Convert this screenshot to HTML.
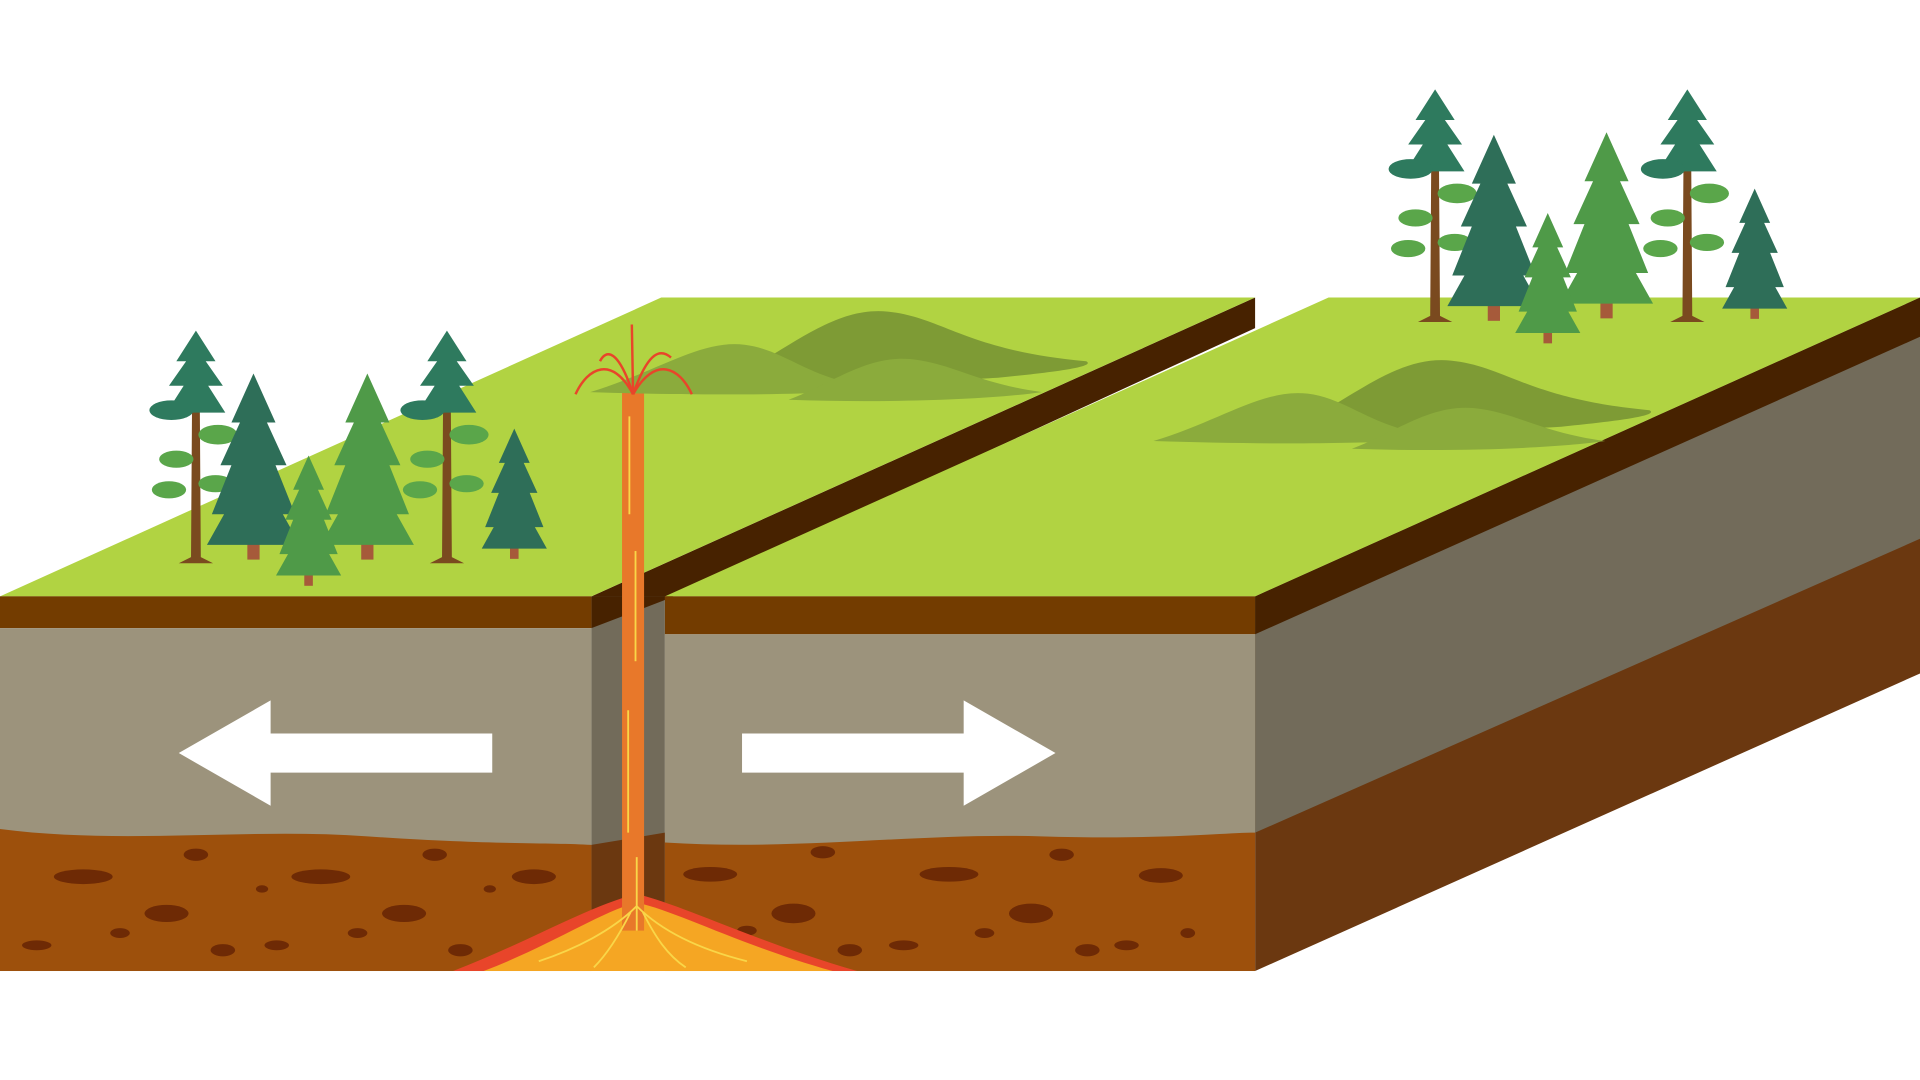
<!DOCTYPE html>
<html><head><meta charset="utf-8"><style>html,body{margin:0;padding:0;background:#fff;overflow:hidden}svg{display:block}</style></head>
<body>
<svg width="1920" height="1080" viewBox="0 0 1568 882" xmlns="http://www.w3.org/2000/svg">
<defs>
<g id="tree">
 <rect x="-5" y="-10" width="10" height="22" fill="#a65a3a"/>
 <polygon points="0,-140 -18,-100 -11,-100 -27,-65 -18,-65 -34,-25 -24,-25 -38,0 38,0 24,-25 34,-25 18,-65 27,-65 11,-100 18,-100" fill="#2e6e58"/>
</g>
<g id="tree2">
 <rect x="-5" y="-10" width="10" height="22" fill="#a65a3a"/>
 <polygon points="0,-140 -18,-100 -11,-100 -27,-65 -18,-65 -34,-25 -24,-25 -38,0 38,0 24,-25 34,-25 18,-65 27,-65 11,-100 18,-100" fill="#4f9a48"/>
</g>
<g id="tall">
 <path d="M-4,0 L-3,-150 L3,-150 L4,0 L14,5 L-14,5 Z" fill="#7a4a1f"/>
 <polygon points="0,-185 -16,-160 -8,-160 -22,-140 -10,-140 -24,-118 24,-118 10,-140 22,-140 8,-160 16,-160" fill="#2e7a5e"/>
 <ellipse cx="-20" cy="-120" rx="18" ry="8" fill="#2e7a5e"/>
 <ellipse cx="18" cy="-100" rx="16" ry="8" fill="#5aa64a"/>
 <ellipse cx="-16" cy="-80" rx="14" ry="7" fill="#5aa64a"/>
 <ellipse cx="16" cy="-60" rx="14" ry="7" fill="#5aa64a"/>
 <ellipse cx="-22" cy="-55" rx="14" ry="7" fill="#5aa64a"/>
</g>
<g id="hills">
 <path d="M0,70 C60,40 100,0 150,5 C200,10 220,40 330,50 C340,55 300,60 250,65 C200,68 100,70 0,70Z" fill="#7e9b35"/>
 <path d="M-120,78 C-60,60 -20,30 20,35 C60,40 80,70 150,75 C100,80 0,82 -120,78Z" fill="#8bab3c"/>
 <path d="M60,85 C100,70 130,45 170,48 C210,52 230,70 290,78 C240,85 150,88 60,85Z" fill="#8bab3c"/>
</g>
</defs>
<rect width="1568" height="882" fill="#fff"/>

<polygon points="1025,487 1568,243 1568,550 1025,793" fill="#6b3810"/>
<polygon points="1025,487 1568,243 1568,440 1025,680" fill="#726b5a"/>
<polygon points="1025,487 1568,243 1568,275 1025,518" fill="#472200"/>

<polygon points="1025,243 1025,268 543,490 483,487" fill="#472200"/>
<polygon points="483,487 543,487 543,793 483,793" fill="#726b5a"/>
<polygon points="483,690 543,680 543,793 483,793" fill="#6b3810"/>
<polygon points="483,487 543,487 543,490 483,513" fill="#472200"/>

<polygon points="0,487 483,487 1025,243 540,243" fill="#b1d342"/>
<polygon points="543,487 1025,487 1568,243 1085,243" fill="#b1d342"/>

<rect x="0" y="487" width="483" height="26" fill="#733c00"/>
<rect x="0" y="513" width="483" height="280" fill="#9c937c"/>
<path d="M0,677 C100,690 200,676 300,683 C400,690 450,688 483,690 L483,793 L0,793Z" fill="#9d500c"/>
<rect x="543" y="487" width="482" height="31" fill="#733c00"/>
<rect x="543" y="518" width="482" height="275" fill="#9c937c"/>
<path d="M543,688 C650,695 750,680 850,683 C950,686 1000,680 1025,680 L1025,793 L543,793Z" fill="#9d500c"/>

<g fill="#6e2a05">
<ellipse cx="68" cy="716" rx="24" ry="6"/><ellipse cx="160" cy="698" rx="10" ry="5"/><ellipse cx="262" cy="716" rx="24" ry="6"/><ellipse cx="355" cy="698" rx="10" ry="5"/><ellipse cx="436" cy="716" rx="18" ry="6"/>
<ellipse cx="136" cy="746" rx="18" ry="7"/><ellipse cx="330" cy="746" rx="18" ry="7"/><ellipse cx="98" cy="762" rx="8" ry="4"/><ellipse cx="226" cy="772" rx="10" ry="4"/><ellipse cx="182" cy="776" rx="10" ry="5"/><ellipse cx="30" cy="772" rx="12" ry="4"/><ellipse cx="292" cy="762" rx="8" ry="4"/><ellipse cx="376" cy="776" rx="10" ry="5"/><ellipse cx="214" cy="726" rx="5" ry="3"/><ellipse cx="400" cy="726" rx="5" ry="3"/>
<ellipse cx="580" cy="714" rx="22" ry="6"/><ellipse cx="672" cy="696" rx="10" ry="5"/><ellipse cx="775" cy="714" rx="24" ry="6"/><ellipse cx="867" cy="698" rx="10" ry="5"/><ellipse cx="948" cy="715" rx="18" ry="6"/>
<ellipse cx="648" cy="746" rx="18" ry="8"/><ellipse cx="842" cy="746" rx="18" ry="8"/><ellipse cx="610" cy="760" rx="8" ry="4"/><ellipse cx="738" cy="772" rx="12" ry="4"/><ellipse cx="694" cy="776" rx="10" ry="5"/><ellipse cx="804" cy="762" rx="8" ry="4"/><ellipse cx="888" cy="776" rx="10" ry="5"/><ellipse cx="920" cy="772" rx="10" ry="4"/><ellipse cx="970" cy="762" rx="6" ry="4"/>
</g>

<path d="M370,793 C430,770 480,740 520,730 C560,740 620,770 700,793Z" fill="#e8452a"/>
<path d="M395,793 C450,772 490,745 520,737 C555,745 605,772 680,793Z" fill="#f5a623"/>
<rect x="508" y="320" width="18" height="440" fill="#e8782a"/>
<g stroke="#f9d648" stroke-width="1.5" fill="none">
<line x1="514" y1="340" x2="514" y2="420"/><line x1="519" y1="450" x2="519" y2="540"/><line x1="513" y1="580" x2="513" y2="680"/><line x1="520" y1="700" x2="520" y2="760"/>
<path d="M520,740 C500,760 470,775 440,785"/><path d="M520,740 C540,760 570,775 610,785"/><path d="M515,745 C505,765 495,780 485,790"/><path d="M525,745 C535,765 545,780 560,790"/>
</g>

<polygon points="146,615 221,572 221,599 402,599 402,631 221,631 221,658" fill="#fff"/>
<polygon points="862,615 787,572 787,599 606,599 606,631 787,631 787,658" fill="#fff"/>

<g transform="translate(590,250) scale(0.9)"><use href="#hills"/></g>
<g transform="translate(1050,290) scale(0.9)"><use href="#hills"/></g>

<g stroke="#e8452a" stroke-width="2" fill="none">
<path d="M517,322 C500,290 480,300 470,322"/><path d="M517,322 C535,290 555,300 565,322"/><path d="M517,322 C505,285 495,285 490,295"/><path d="M517,322 C530,285 540,285 548,292"/><line x1="517" y1="322" x2="516" y2="265"/>
</g>

<use href="#tall" x="160" y="455"/>
<use href="#tree" x="207" y="445"/>
<use href="#tree2" x="300" y="445"/>
<g transform="translate(252,470) scale(0.7)"><use href="#tree2"/></g>
<use href="#tall" x="365" y="455"/>
<g transform="translate(420,448) scale(0.7)"><use href="#tree"/></g>
<use href="#tall" x="1172" y="258"/>
<use href="#tree" x="1220" y="250"/>
<use href="#tree2" x="1312" y="248"/>
<g transform="translate(1264,272) scale(0.7)"><use href="#tree2"/></g>
<use href="#tall" x="1378" y="258"/>
<g transform="translate(1433,252) scale(0.7)"><use href="#tree"/></g>
</svg>
</body></html>
